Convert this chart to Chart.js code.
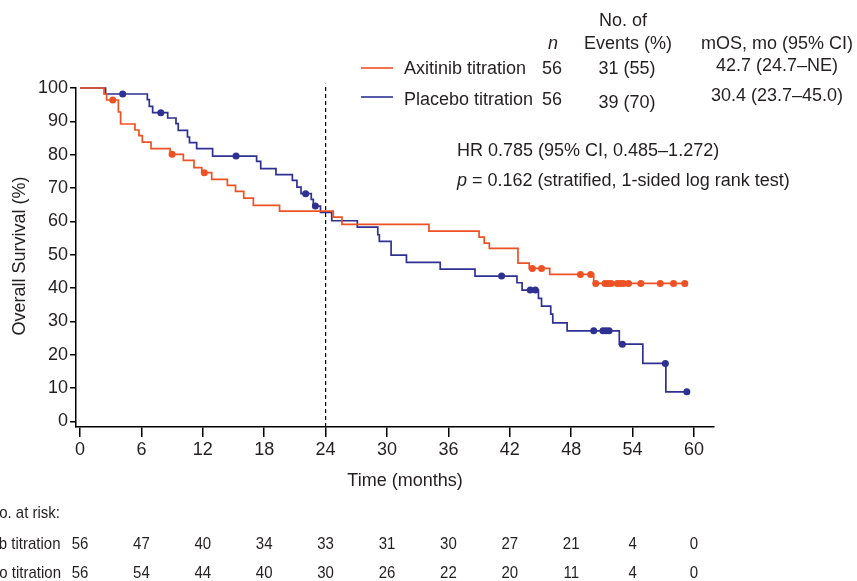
<!DOCTYPE html>
<html>
<head>
<meta charset="utf-8">
<script src="https://cdn.jsdelivr.net/npm/chart.js@4.4.1/dist/chart.umd.min.js"></script>
<style>
html,body{margin:0;padding:0;background:#fff;}
canvas{display:block;}
</style>
</head>
<body>
<canvas id="c" width="857" height="581" style="width:857px;height:581px"></canvas>
<script>
// ---- data ----
const months = [0, 6, 12, 18, 24, 30, 36, 42, 48, 54, 60];
const survivalTicks = [0, 10, 20, 30, 40, 50, 60, 70, 80, 90, 100];
const atRiskAxitinib = [56, 47, 40, 34, 33, 31, 30, 27, 21, 4, 0];
const atRiskPlacebo  = [56, 54, 44, 40, 30, 26, 22, 20, 11, 4, 0];

const axitinibTime = [0, 2.35, 2.6, 3.75, 3.97, 5.37, 5.76, 6.09, 6.94, 8.8, 10.1, 11.14, 11.9, 12.87, 14.4, 15.2, 16.0, 16.94, 19.5, 24.75, 25.6, 34.1, 39.0, 39.5, 40.0, 42.8, 43.9, 45.9, 50.2, 59.1];
const axitinibSurv = [100, 98.2, 96.4, 92.8, 89.2, 87.4, 85.7, 83.8, 81.8, 80.1, 78.3, 76.1, 74.6, 72.6, 70.8, 69.0, 67.0, 64.8, 63.1, 61.3, 59.1, 57.1, 55.3, 53.5, 51.9, 47.5, 45.9, 44.1, 41.4, 41.4];
const axitinibCensorTime = [3.2, 9.0, 12.15, 44.2, 45.1, 48.9, 49.9, 50.4, 51.3, 51.6, 51.9, 52.5, 52.8, 53.1, 53.6, 54.8, 56.7, 58.0, 59.1];
const axitinibCensorSurv = [96.4, 80.1, 74.6, 45.9, 45.9, 44.1, 44.1, 41.4, 41.4, 41.4, 41.4, 41.4, 41.4, 41.4, 41.4, 41.4, 41.4, 41.4, 41.4];

const placeboTime = [0, 2.5, 6.58, 6.77, 7.1, 8.57, 9.38, 9.6, 10.5, 10.7, 11.4, 12.96, 17.26, 17.66, 19.15, 20.75, 21.2, 21.6, 22.6, 22.8, 23.5, 24.6, 27.1, 29.1, 29.25, 30.4, 31.9, 35.2, 38.6, 42.7, 43.2, 44.8, 45.1, 46.0, 46.2, 47.6, 52.7, 55.0, 57.25, 59.3];
const placeboSurv = [100, 98.2, 96.5, 94.5, 92.6, 91.0, 89.3, 87.3, 85.3, 83.6, 81.8, 79.6, 78.0, 75.8, 74.0, 72.3, 70.3, 68.3, 66.6, 64.6, 62.7, 60.2, 58.3, 56.0, 54.0, 49.9, 47.7, 45.7, 43.6, 41.6, 39.4, 36.9, 34.6, 32.2, 29.6, 27.2, 23.2, 17.4, 8.9, 8.9];
const placeboCensorTime = [4.17, 7.9, 15.25, 22.05, 23.0, 41.2, 44.0, 44.5, 50.2, 51.1, 51.4, 51.7, 53.0, 57.2, 59.3];
const placeboCensorSurv = [98.2, 92.6, 79.6, 68.3, 64.6, 43.6, 39.4, 39.4, 27.2, 27.2, 27.2, 27.2, 23.2, 17.4, 8.9];

const landmarkMonth = 24;

// ---- styling ----
const ORANGE = '#EE5124';
const BLUE = '#2E3192';
const INK = '#231F20';
const FONT = '"Liberation Sans", Arial, Helvetica, sans-serif';

const toXY = (xs, ys) => xs.map((x, i) => ({x: x, y: ys[i]}));

const textPlugin = {
  id: 'textPlugin',
  afterDraw(chart) {
    const ctx = chart.ctx;
    const xs = chart.scales.x;
    ctx.save();
    ctx.fillStyle = INK;
    ctx.textBaseline = 'middle';
    const f = (size, style) => (style ? style + ' ' : '') + size + 'px ' + FONT;
    const t = (s, x, y, align, font) => { ctx.font = font || f(18); ctx.textAlign = align || 'left'; ctx.fillText(s, x, y); };

    // header table
    t('No. of', 623, 21, 'center');
    t('n', 553, 44, 'center', f(18, 'italic'));
    t('Events (%)', 628, 44, 'center');
    t('mOS, mo (95% CI)', 777, 44, 'center');
    // legend rows
    ctx.lineWidth = 1.6;
    ctx.strokeStyle = ORANGE;
    ctx.beginPath(); ctx.moveTo(361, 68); ctx.lineTo(393, 68); ctx.stroke();
    ctx.strokeStyle = BLUE;
    ctx.beginPath(); ctx.moveTo(361, 97); ctx.lineTo(393, 97); ctx.stroke();
    t('Axitinib titration', 404, 69, 'left');
    t('56', 552, 69, 'center');
    t('31 (55)', 627, 69, 'center');
    t('42.7 (24.7\u2013NE)', 777, 66, 'center');
    t('Placebo titration', 404, 100, 'left');
    t('56', 552, 100, 'center');
    t('39 (70)', 627, 103, 'center');
    t('30.4 (23.7\u201345.0)', 777, 96, 'center');

    // HR text
    t('HR 0.785 (95% CI, 0.485\u20131.272)', 457, 151, 'left');
    ctx.font = f(18, 'italic'); ctx.textAlign = 'left';
    ctx.fillText('p', 457, 181);
    const pw = ctx.measureText('p').width;
    t(' = 0.162 (stratified, 1-sided log rank test)', 457 + pw, 181, 'left');

    // axis titles
    t('Time (months)', 405, 481, 'center');
    ctx.save();
    ctx.translate(20, 256);
    ctx.rotate(-Math.PI / 2);
    t('Overall Survival (%)', 0, 0, 'center');
    ctx.restore();

    // at-risk table
    const tf = f(15);
    const tt = (s, x, y, align) => {
      ctx.save();
      ctx.font = tf; ctx.textAlign = align;
      ctx.translate(x, y); ctx.scale(1, 1.08);
      ctx.fillText(s, 0, 0);
      ctx.restore();
    };
    tt('No. at risk:', 60, 514, 'right');
    tt('Axitinib titration', 60.5, 545, 'right');
    tt('Placebo titration', 61, 574, 'right');
    months.forEach((m, i) => {
      const px = xs.getPixelForValue(m);
      tt(String(atRiskAxitinib[i]), px, 545, 'center');
      tt(String(atRiskPlacebo[i]), px, 574, 'center');
    });
    ctx.restore();
  }
};

new Chart(document.getElementById('c'), {
  type: 'line',
  data: {
    datasets: [
      {
        label: 'Axitinib titration',
        data: toXY(axitinibTime, axitinibSurv),
        stepped: 'before',
        borderColor: ORANGE, borderWidth: 1.7,
        pointRadius: 0, fill: false, clip: false, order: 3
      },
      {
        label: 'Placebo titration',
        data: toXY(placeboTime, placeboSurv),
        stepped: 'before',
        borderColor: BLUE, borderWidth: 1.7,
        pointRadius: 0, fill: false, clip: false, order: 4
      },
      {
        label: 'Axitinib censored',
        data: toXY(axitinibCensorTime, axitinibCensorSurv),
        showLine: false,
        pointRadius: 3.5, pointBorderWidth: 0,
        pointBackgroundColor: ORANGE, borderColor: ORANGE, clip: false, order: 1
      },
      {
        label: 'Placebo censored',
        data: toXY(placeboCensorTime, placeboCensorSurv),
        showLine: false,
        pointRadius: 3.5, pointBorderWidth: 0,
        pointBackgroundColor: BLUE, borderColor: BLUE, clip: false, order: 2
      },
      {
        label: 'Landmark',
        data: [{x: landmarkMonth, y: -1.65}, {x: landmarkMonth, y: 101.3}],
        borderColor: '#000', borderWidth: 1.2, borderDash: [4, 3],
        pointRadius: 0, clip: false, order: 5
      }
    ]
  },
  options: {
    responsive: false,
    devicePixelRatio: 1,
    animation: false,
    layout: { padding: { top: 88, right: 143, left: 0, bottom: 0 } },
    plugins: { legend: { display: false }, tooltip: { enabled: false } },
    scales: {
      x: {
        type: 'linear',
        min: -0.391, max: 61.954,
        afterBuildTicks: (s) => { s.ticks = months.map(v => ({value: v})); },
        afterFit: (s) => { s.height = 154; },
        grid: { drawOnChartArea: false, drawTicks: true, tickLength: 10, color: '#000', lineWidth: 1.5 },
        border: { display: true, color: '#000', width: 1.5 },
        ticks: { color: INK, font: { family: FONT, size: 18 }, padding: 2, maxRotation: 0, autoSkip: false }
      },
      y: {
        type: 'linear',
        min: -1.649, max: 100,
        afterBuildTicks: (s) => { s.ticks = survivalTicks.map(v => ({value: v})); },
        afterFit: (s) => { s.width = 76; },
        grid: { drawOnChartArea: false, drawTicks: true, tickLength: 6, color: '#000', lineWidth: 1.5 },
        border: { display: true, color: '#000', width: 1.5 },
        ticks: { color: INK, font: { family: FONT, size: 18 }, padding: 2, autoSkip: false }
      }
    }
  },
  plugins: [textPlugin]
});
</script>
</body>
</html>
